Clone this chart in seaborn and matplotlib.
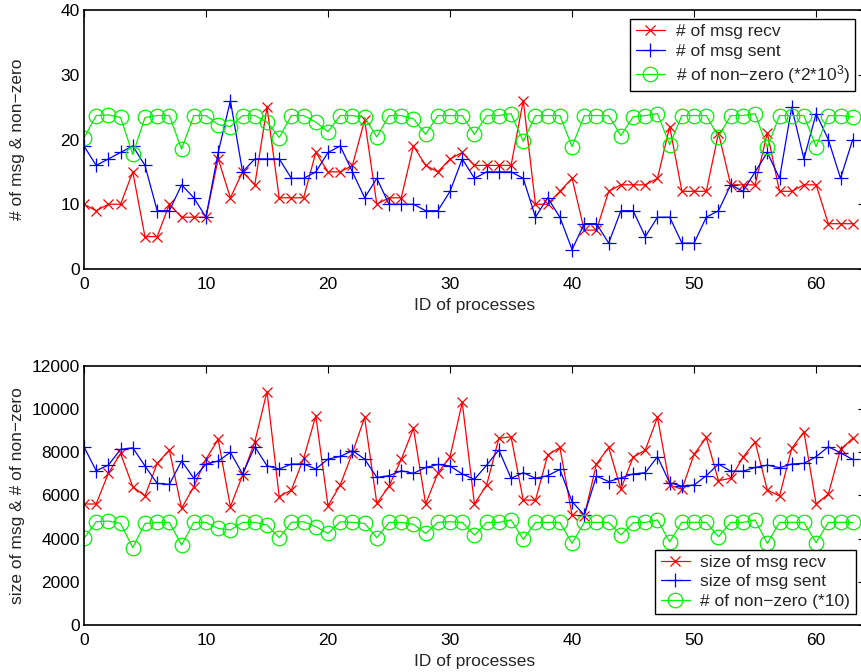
import matplotlib
matplotlib.use("Agg")
import matplotlib.pyplot as plt
import numpy as np
import seaborn as sns

# process ids 0..63
proc_ids = np.arange(64)

# top panel: message counts
msg_recv = [10, 9, 10, 10, 15, 5, 5, 10, 8, 8,
            8, 17, 11, 15, 13, 25, 11, 11, 11, 18,
            15, 15, 16, 23, 10, 11, 11, 19, 16, 15,
            17, 18, 16, 16, 16, 16, 26, 10, 10, 12,
            14, 6, 6, 12, 13, 13, 13, 14, 22, 12,
            12, 12, 21, 13, 13, 13, 21, 12, 12, 13,
            13, 7, 7, 7]
msg_sent = [19, 16, 17, 18, 19, 16, 9, 9, 13, 11,
            8, 18, 26, 15, 17, 17, 17, 14, 14, 15,
            18, 19, 15, 11, 14, 10, 10, 10, 9, 9,
            12, 17, 14, 15, 15, 15, 14, 8, 11, 8,
            3, 7, 7, 4, 9, 9, 5, 8, 8, 4,
            4, 8, 9, 13, 12, 15, 18, 14, 25, 17,
            24, 20, 14, 20]
nnz_top = [20.2, 23.7, 23.8, 23.4, 17.7, 23.4, 23.7, 23.7, 18.5, 23.7,
           23.7, 22.3, 22.0, 23.7, 23.7, 22.7, 20.3, 23.7, 23.7, 22.7,
           21.2, 23.7, 23.7, 23.4, 20.4, 23.7, 23.7, 23.2, 20.8, 23.7,
           23.7, 23.7, 20.8, 23.7, 23.7, 24.0, 19.7, 23.7, 23.7, 23.7,
           18.9, 23.7, 23.7, 23.7, 20.6, 23.5, 23.7, 24.0, 19.2, 23.7,
           23.7, 23.7, 20.4, 23.7, 23.7, 24.0, 18.8, 23.7, 23.7, 23.7,
           18.9, 23.7, 23.7, 23.5]

# bottom panel: message sizes
size_recv = [5600, 5600, 7020, 7940, 6400, 5970, 7480, 8100, 5400, 6400,
             7680, 8590, 5470, 6940, 8480, 10800, 5940, 6250, 7710, 9680,
             5520, 6480, 7960, 9610, 5630, 6430, 7660, 9100, 5600, 7020,
             7790, 10300, 5600, 6480, 8640, 8710, 5780, 5780, 7860, 8220,
             5090, 5040, 7450, 8220, 6290, 7760, 8100, 9610, 6480, 6280,
             7900, 8680, 6680, 6790, 7760, 8480, 6250, 5970, 8170, 8940,
             5600, 6060, 8130, 8640]
size_sent = [8250, 7140, 7400, 8130, 8200, 7360, 6550, 6510, 7590, 6790,
             7450, 7590, 7990, 6990, 8250, 7370, 7220, 7450, 7450, 7220,
             7680, 7800, 8070, 7680, 6830, 6910, 7140, 7020, 7290, 7430,
             7360, 6990, 6740, 7400, 8100, 6790, 7050, 6790, 6910, 7200,
             5710, 5090, 6890, 6640, 6810, 6990, 7050, 7790, 6580, 6430,
             6480, 6910, 7450, 7120, 7120, 7290, 7400, 7280, 7450, 7480,
             7790, 8250, 7970, 7660]
nnz_bottom = [4010, 4780, 4810, 4700, 3580, 4700, 4750, 4750, 3700, 4750,
              4750, 4470, 4400, 4750, 4750, 4630, 4040, 4750, 4780, 4550,
              4240, 4780, 4750, 4700, 4040, 4750, 4750, 4660, 4240, 4750,
              4780, 4750, 4160, 4750, 4750, 4860, 3960, 4750, 4750, 4750,
              3780, 4750, 4750, 4750, 4170, 4730, 4750, 4860, 3850, 4750,
              4750, 4750, 4090, 4750, 4750, 4860, 3780, 4750, 4750, 4750,
              3810, 4750, 4750, 4750]

x_ticks = [0, 10, 20, 30, 40, 50, 60]
top_yticks = [0, 10, 20, 30, 40]
bottom_yticks = [0, 2000, 4000, 6000, 8000, 10000, 12000]

sns.set_style("white")
plt.rcParams["font.family"] = ["Liberation Sans", "DejaVu Sans"]
plt.rcParams["mathtext.fontset"] = "custom"
plt.rcParams["mathtext.rm"] = "Liberation Sans"
plt.rcParams["mathtext.default"] = "regular"
FS = 12.5

RED = (1, 0, 0)
BLUE = (0, 0, 1)
GREEN = (0, 0.95, 0)

fig = plt.figure(figsize=(8.62, 6.72), dpi=100)
ax_top = fig.add_axes([0.0974, 0.5997, 0.906, 0.3854])
ax_bot = fig.add_axes([0.0974, 0.0699, 0.906, 0.3859])


def draw_series(ax, y, marker, color, label, ms):
    sns.lineplot(
        x=proc_ids, y=y, ax=ax, color=color, label=label, linewidth=0.9,
        marker=marker, markersize=ms, markeredgecolor=color,
        markerfacecolor="none", markeredgewidth=0.9,
    )


draw_series(ax_top, msg_recv, "x", RED, "# of msg recv", 7)
draw_series(ax_top, msg_sent, "+", BLUE, "# of msg sent", 9.5)
draw_series(ax_top, nnz_top, "o", GREEN, "# of non\u2212zero (*2*10$^3$)", 10.5)

draw_series(ax_bot, size_recv, "x", RED, "size of msg recv", 7)
draw_series(ax_bot, size_sent, "+", BLUE, "size of msg sent", 9.5)
draw_series(ax_bot, nnz_bottom, "o", GREEN, "# of non\u2212zero (*10)", 10.5)

for ax, yt, ylab in [
    (ax_top, top_yticks, "# of msg & non\u2212zero"),
    (ax_bot, bottom_yticks, "size of msg & # of non\u2212zero"),
]:
    ax.set_xlim(0, 64)
    ax.set_ylim(yt[0], yt[-1])
    ax.set_xticks(x_ticks)
    ax.set_yticks(yt)
    ax.set_xlabel("ID of processes", fontsize=FS, labelpad=4)
    ax.set_ylabel(ylab, fontsize=FS)
    ax.yaxis.set_label_coords(-0.076, 0.5)
    ax.tick_params(axis="x", pad=6)
    ax.tick_params(axis="y", pad=3)
    ax.tick_params(direction="in", top=True, right=True, length=5,
                   width=0.8, labelsize=FS, colors="black")
    for sp in ax.spines.values():
        sp.set_color("black")
        sp.set_linewidth(1.2)

leg_kw = dict(fancybox=False, framealpha=1, edgecolor="black", fontsize=FS,
              handlelength=1.7, borderpad=0.3, labelspacing=0.25,
              handletextpad=0.6, borderaxespad=0)
leg1 = ax_top.legend(loc="upper right", bbox_to_anchor=(0.987, 0.965), **leg_kw)
leg2 = ax_bot.legend(loc="lower right", bbox_to_anchor=(0.988, 0.042), **leg_kw)
for leg in (leg1, leg2):
    leg.get_frame().set_linewidth(1.0)

fig.savefig("out.png", dpi=100)
